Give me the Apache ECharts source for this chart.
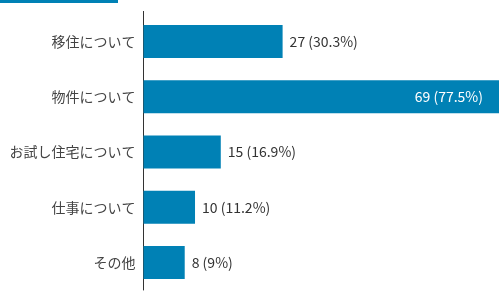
<!DOCTYPE html>
<html>
<head>
<meta charset="utf-8">
<style>
html,body{margin:0;padding:0;background:#fff;}
#main{width:499px;height:291px;}
</style>
<script src="https://cdn.jsdelivr.net/npm/echarts@6/dist/echarts.min.js"></script>
</head>
<body>
<div id="main"></div>
<script>
const categories = ['移住について', '物件について', 'お試し住宅について', '仕事について', 'その他'];
const counts = [27, 69, 15, 10, 8];
const percents = ['30.3', '77.5', '16.9', '11.2', '9'];

const BLUE = '#0081b5';
const chart = echarts.init(document.getElementById('main'), null, {renderer: 'canvas'});

const seriesData = counts.map((v, i) => {
  const item = {value: v};
  if (i === 1) {
    item.label = {position: 'insideRight', color: '#ffffff', distance: 16};
  }
  return item;
});

chart.setOption({
  animation: false,
  grid: {left: 143.5, right: 0, top: 14, bottom: 1, containLabel: false},
  xAxis: {
    type: 'value', min: 0, max: 69, show: false
  },
  yAxis: {
    type: 'category', data: categories, inverse: true,
    axisLine: {show: true, lineStyle: {color: '#333333', width: 1}},
    axisTick: {show: false},
    axisLabel: {color: '#444444', fontSize: 14, margin: 8, fontFamily: "'Noto Sans CJK JP', sans-serif"},
    splitLine: {show: false}
  },
  series: [{
    type: 'bar',
    data: seriesData,
    barWidth: 33,
    itemStyle: {color: BLUE},
    label: {
      show: true, position: 'right', distance: 7,
      color: '#333333', fontSize: 14,
      fontFamily: "'Noto Sans CJK JP', sans-serif",
      formatter: p => counts[p.dataIndex] + ' (' + percents[p.dataIndex] + '%)'
    }
  }],
  graphic: [
    {type: 'rect', shape: {x: 0, y: 0, width: 118, height: 3}, style: {fill: BLUE}},
    {type: 'line', shape: {x1: 143.5, y1: 11, x2: 143.5, y2: 14.5}, style: {stroke: '#333333', lineWidth: 1}}
  ]
});
</script>
</body>
</html>
